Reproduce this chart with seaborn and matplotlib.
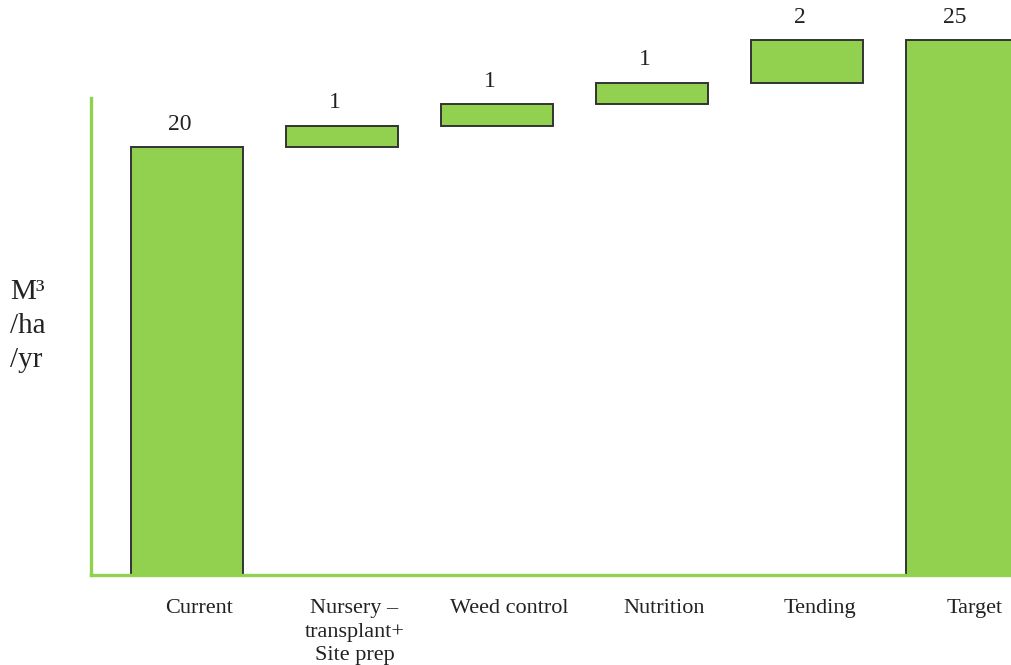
import matplotlib
matplotlib.use("Agg")
import matplotlib.pyplot as plt
import matplotlib.transforms as mtransforms
import seaborn as sns

# Waterfall data: starting level, contributions, target
categories = ["Current", "Nursery \u2013\ntransplant+\nSite prep", "Weed control",
              "Nutrition", "Tending", "Target"]
steps = [20, 1, 1, 1, 2, 25]
is_total = [True, False, False, False, False, True]
value_labels = ["20", "1", "1", "1", "2", "25"]

# Bar bases and tops for the floating steps
bases, tops = [], []
running = 0
for v, total in zip(steps, is_total):
    if total:
        bases.append(0)
        tops.append(v)
        running = v
    else:
        bases.append(running)
        running += v
        tops.append(running)

sns.set_theme(style="white")
plt.rcParams["font.family"] = ["Liberation Serif", "DejaVu Serif"]

GREEN = "#92D050"
EDGE = "#333333"

fig = plt.figure(figsize=(10.11, 6.65), dpi=100)
ax = fig.add_axes([0.09, 0.1353, 0.9305, 0.8647])

sns.barplot(x=categories, y=tops, color=GREEN, saturation=1, width=0.72,
            edgecolor=EDGE, linewidth=1.4, ax=ax)

# Lift each bar so it floats from its base
for patch, b, t in zip(ax.patches, bases, tops):
    patch.set_y(b)
    patch.set_height(t - b)

ax.set_ylim(0, 26.87)
ax.set_xlim(-0.619, 5.45)

# Value labels above each bar
for i, (t, lab) in enumerate(zip(tops, value_labels)):
    ax.annotate(lab, xy=(i, t), xytext=(-5, 9), textcoords="offset points",
                ha="center", va="bottom", fontsize=17, color="#222222")

# Axes styling: green L-shaped frame, no ticks
for side in ["top", "right"]:
    ax.spines[side].set_visible(False)
for side in ["left", "bottom"]:
    ax.spines[side].set_color(GREEN)
    ax.spines[side].set_linewidth(2.4)
ax.spines["left"].set_bounds(0, 22.3)
ax.set_yticks([])
ax.set_ylabel("")
ax.tick_params(axis="x", length=0, pad=17, labelsize=16, labelcolor="#222222")

shift = mtransforms.ScaledTranslation(9 / 72, 0, fig.dpi_scale_trans)
for lbl in ax.get_xticklabels():
    lbl.set_transform(lbl.get_transform() + shift)
    lbl.set_linespacing(1.35)

fig.text(0.01, 0.51, "M\u00b3\n/ha\n/yr", ha="left", va="center",
         fontsize=21, color="#222222", linespacing=1.4)

fig.savefig("out.png", dpi=100)
